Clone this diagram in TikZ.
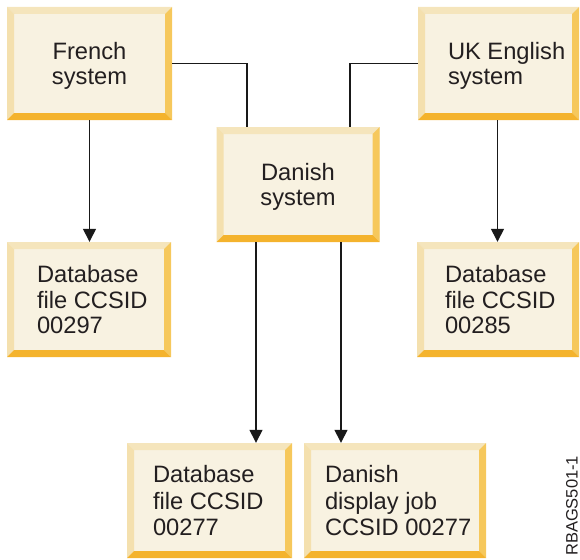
\documentclass[tikz,border=0pt]{standalone}
\usepackage{fontspec}
\setmainfont{Liberation Sans}
\usetikzlibrary{arrows.meta}
\definecolor{boxfill}{HTML}{F8F2E1}
\definecolor{bevtop}{HTML}{F5E5BC}
\definecolor{bevleft}{HTML}{F4E0AE}
\definecolor{bevright}{HTML}{F6C85C}
\definecolor{bevbot}{HTML}{F4B32D}
\definecolor{txtcol}{HTML}{231F20}
\tikzset{
  bevbox/.style={rectangle, fill=boxfill, inner sep=0pt, align=center,
    text=txtcol, font=\fontsize{23.7}{25.5}\selectfont, text depth=0pt,
    path picture={
      \coordinate (NW) at (path picture bounding box.north west);
      \coordinate (NE) at (path picture bounding box.north east);
      \coordinate (SW) at (path picture bounding box.south west);
      \coordinate (SE) at (path picture bounding box.south east);
      \fill[bevtop] (NW) -- (NE) -- ([shift={(-7pt,-7pt)}]NE) -- ([shift={(7pt,-7pt)}]NW) -- cycle;
      \fill[bevleft] (NW) -- ([shift={(7pt,-7pt)}]NW) -- ([shift={(7pt,7pt)}]SW) -- (SW) -- cycle;
      \fill[bevright] (NE) -- (SE) -- ([shift={(-7pt,7pt)}]SE) -- ([shift={(-7pt,-7pt)}]NE) -- cycle;
      \fill[bevbot] (SW) -- (SE) -- ([shift={(-7pt,7pt)}]SE) -- ([shift={(7pt,7pt)}]SW) -- cycle;
    }},
  txt/.style={anchor=west, align=left, inner sep=0pt, text depth=0pt, text=txtcol,
    font=\fontsize{23.7}{25.5}\selectfont},
  txtlow/.style={txt, font=\fontsize{23.7}{26.7}\selectfont},
  conn/.style={line width=1.4pt, draw=black!90},
  arr/.style={conn, -{Triangle[length=13pt,width=13pt]}}
}
\begin{document}
\begin{tikzpicture}[x=1pt,y=-1pt]
\useasboundingbox (0,0) rectangle (580,559);
% boxes
\node[bevbox, minimum width=165pt, minimum height=113pt] (fr) at (89.5,63.5) {French\\system};
\node[bevbox, minimum width=161pt, minimum height=113pt] (uk) at (498.5,63.5) {};
\node[bevbox, minimum width=163pt, minimum height=115pt] (dn) at (298,184.5) {Danish\\system};
\node[bevbox, minimum width=164pt, minimum height=115pt] (db1) at (89,299.5) {};
\node[bevbox, minimum width=162pt, minimum height=115pt] (db2) at (498,299.5) {};
\node[bevbox, minimum width=165pt, minimum height=115pt] (db3) at (209.5,500.5) {};
\node[bevbox, minimum width=182pt, minimum height=115pt] (dj) at (395,500.5) {};
% texts
\node[txt] (ukt) at ([xshift=30pt]uk.west) {UK English\\system};
\node[txt] (db1t) at ([xshift=30pt]db1.west) {Database\\file CCSID\\00297};
\node[txt] (db2t) at ([xshift=28pt]db2.west) {Database\\file CCSID\\00285};
\node[txtlow] (db3t) at ([xshift=26pt]db3.west) {Database\\file CCSID\\00277};
\node[txtlow] (djt) at ([xshift=21pt]dj.west) {Danish\\display job\\CCSID 00277};
\node[rotate=90, anchor=south west, font=\fontsize{16.5}{16.5}\selectfont, text=txtcol, inner sep=0pt] (id) at (578,556) {RBAGS501-1};
% connectors
\draw[conn] (fr.east) -| ([xshift=-51pt]dn.north);
\draw[conn] (uk.west) -| ([xshift=52pt]dn.north);
\draw[arr] (fr.south) -- (fr.south |- db1.north);
\draw[arr] ([xshift=-1pt]uk.south) -- ([xshift=-1pt]uk.south |- db2.north);
\draw[arr] ([xshift=-42pt]dn.south) -- ([xshift=-42pt]dn.south |- db3.north);
\draw[arr] ([xshift=43pt]dn.south) -- ([xshift=43pt]dn.south |- dj.north);
\end{tikzpicture}
\end{document}
